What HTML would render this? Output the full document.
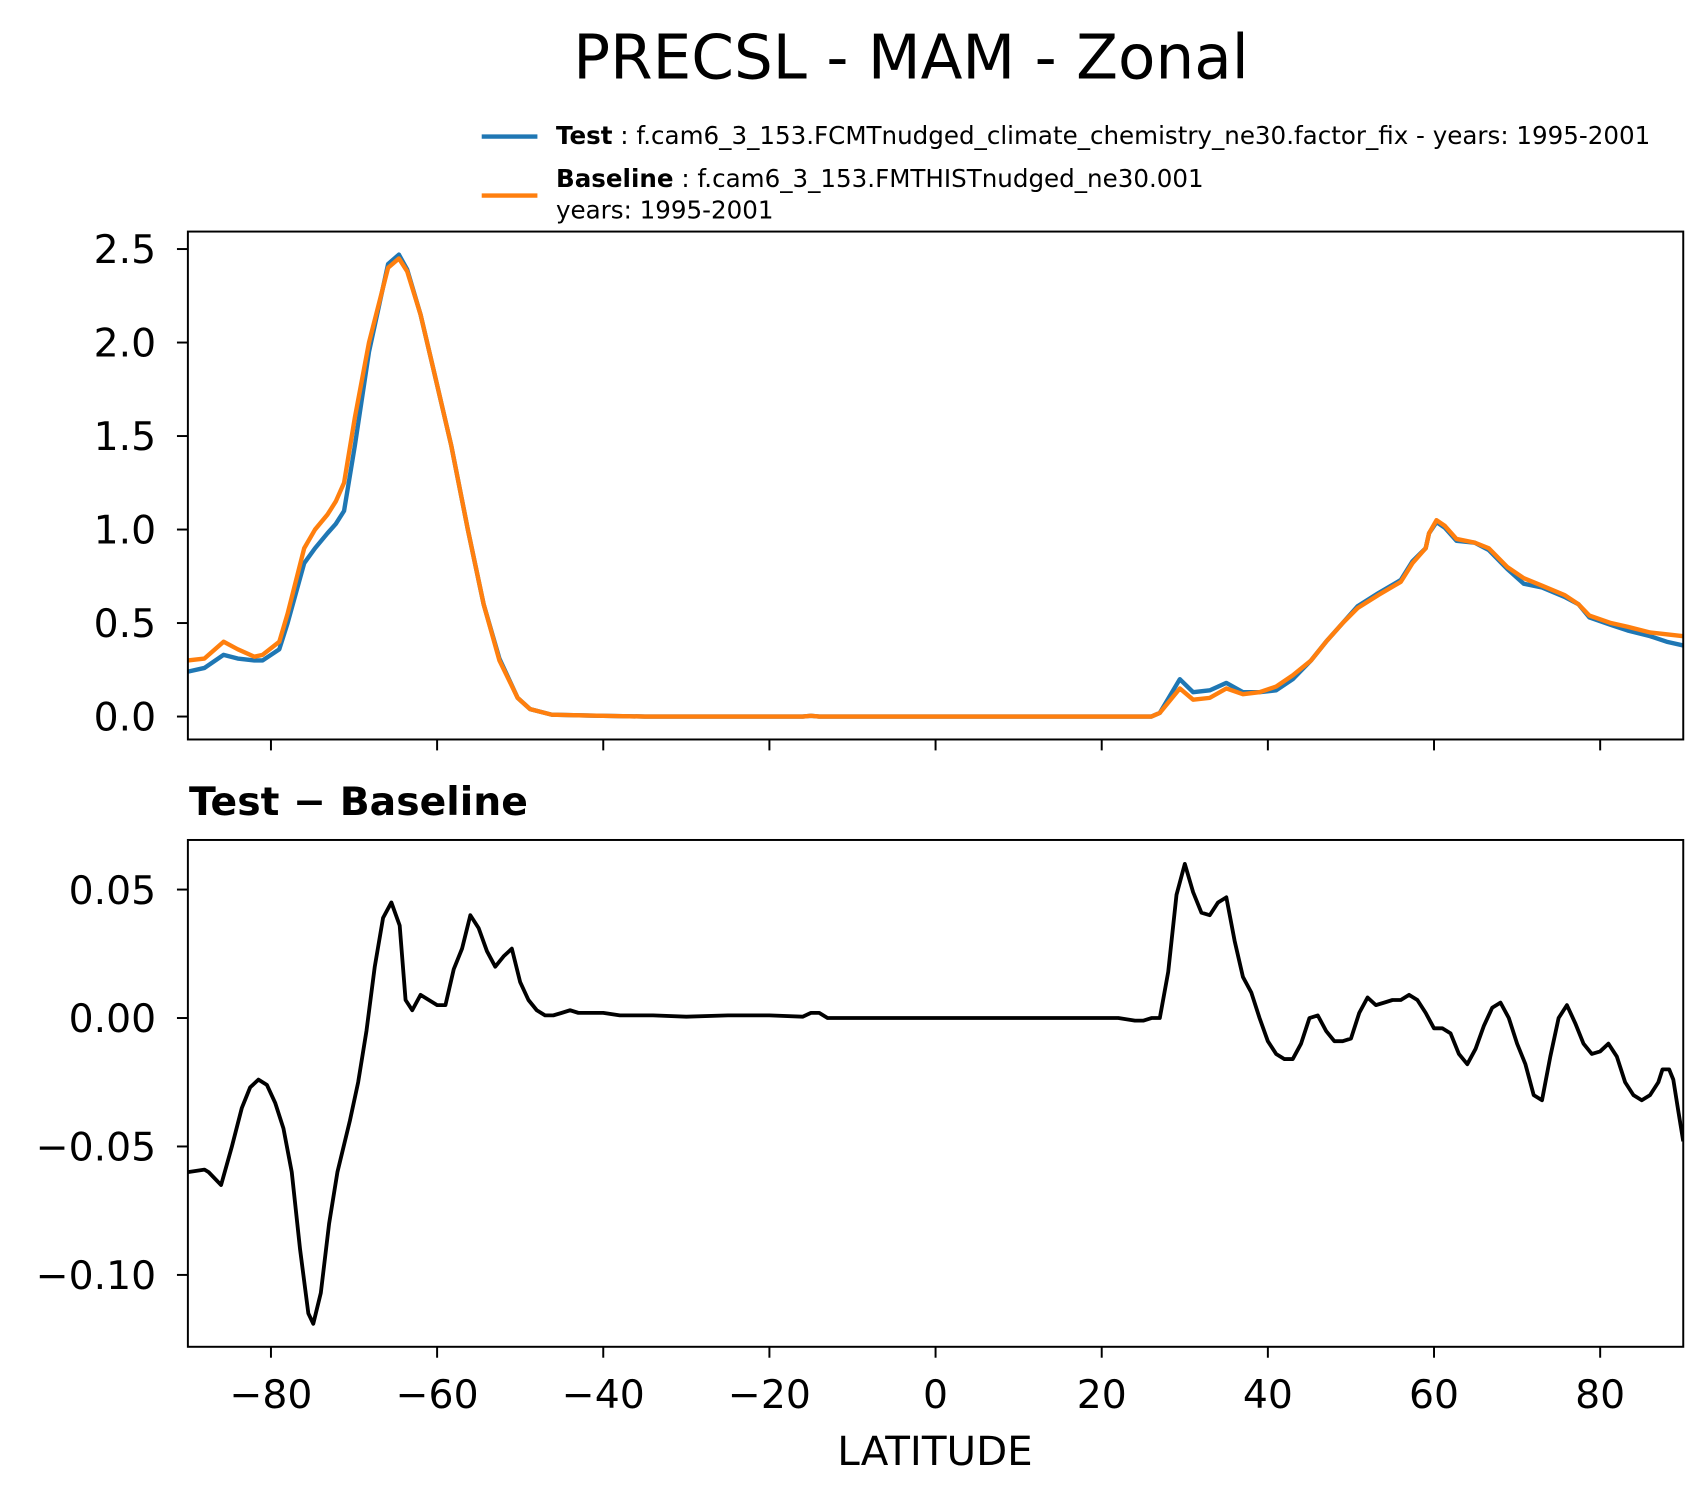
<!DOCTYPE html>
<html><head><meta charset="utf-8"><style>
html,body{margin:0;padding:0;background:#fff;}
svg{display:block;font-family:"DejaVu Sans","Liberation Sans",sans-serif;}
</style></head><body>
<svg id="chart" width="1704" height="1496" viewBox="0 0 1560 1369.6" preserveAspectRatio="none" xmlns="http://www.w3.org/2000/svg">
<rect width="1560" height="1369.6" fill="#fff"/>
<text x="834" y="72" font-size="56" text-anchor="middle">PRECSL - MAM - Zonal</text>
<g>
<line x1="441" y1="125" x2="492" y2="125" stroke="#1f77b4" stroke-width="4"/>
<text x="509" y="132" font-size="22.5"><tspan font-weight="bold">Test</tspan> : f.cam6_3_153.FCMTnudged_climate_chemistry_ne30.factor_fix - years: 1995-2001</text>
<line x1="441" y1="179" x2="492" y2="179" stroke="#ff7f0e" stroke-width="4"/>
<text x="509" y="171" font-size="22.5"><tspan font-weight="bold">Baseline</tspan> : f.cam6_3_153.FMTHISTnudged_ne30.001</text>
<text x="509" y="200" font-size="22.5">years: 1995-2001</text>
</g>
<g id="top"></g>
<text x="173" y="746" font-size="36" font-weight="bold">Test − Baseline</text>
<g id="bot"></g>
<text x="856" y="1341" font-size="37" text-anchor="middle">LATITUDE</text>
</svg>
<script>
const lats=[-90,-88,-85.7,-84,-82,-81,-79,-78,-76,-74.7,-73.2,-72.2,-71.2,-69.9,-68.2,-65.9,-64.6,-63.6,-62,-60.4,-58.3,-56.3,-54.4,-52.5,-50.3,-48.8,-46.2,-41.6,-35,-16,-15,-14,26,27,29.4,31,33,35,37,39,41,43,45.2,47,49,50.8,53.3,56,57.4,59,59.4,60.3,61.3,62.7,64.9,66.6,68.8,70.8,73,75.7,77.4,78.7,81.3,83.3,86,88,90];
const baseline=[0.30,0.31,0.40,0.36,0.32,0.33,0.40,0.55,0.90,1.00,1.08,1.15,1.25,1.60,2.00,2.40,2.45,2.38,2.15,1.85,1.45,1.00,0.60,0.30,0.10,0.04,0.01,0.005,0,0,0.004,0,0,0.02,0.15,0.09,0.10,0.15,0.12,0.13,0.16,0.22,0.30,0.40,0.50,0.58,0.65,0.72,0.82,0.90,0.98,1.05,1.02,0.95,0.93,0.90,0.80,0.74,0.70,0.65,0.60,0.54,0.50,0.48,0.45,0.44,0.43];
const test=[0.24,0.26,0.33,0.31,0.30,0.30,0.36,0.50,0.82,0.90,0.98,1.03,1.10,1.45,1.95,2.42,2.47,2.39,2.15,1.85,1.45,1.00,0.60,0.31,0.10,0.04,0.01,0.005,0,0,0.004,0,0,0.02,0.20,0.13,0.14,0.18,0.13,0.13,0.14,0.20,0.30,0.40,0.50,0.59,0.66,0.73,0.83,0.90,0.98,1.04,1.01,0.94,0.93,0.89,0.79,0.71,0.69,0.64,0.60,0.53,0.49,0.46,0.43,0.40,0.38];
const dlats=[-90,-88,-87.5,-86,-84.7,-83.5,-82.5,-81.5,-80.5,-79.5,-78.5,-77.5,-76.5,-75.5,-74.9,-74,-73,-72,-70.5,-69.5,-68.5,-67.5,-66.5,-65.5,-64.5,-63.8,-63,-62,-61,-60,-59,-58,-57,-56,-55,-54,-53,-52,-51,-50,-49,-48,-47,-46,-45,-44,-43,-40,-38,-34,-30,-25,-20,-16,-15,-14,-13,22,24,25,26,27,28,29,30,31,32,33,34,35,36,37,38,39,40,41,42,43,44,45,46,47,48,49,50,51,52,53,54,55,56,57,58,59,60,61,62,63,64,65,66,67,68,69,70,71,72,73,74,75,76,77,78,79,80,81,82,83,84,85,86,87,87.5,88.3,88.8,89.4,90];
const diff=[-0.060,-0.059,-0.060,-0.065,-0.050,-0.035,-0.027,-0.024,-0.026,-0.033,-0.043,-0.060,-0.090,-0.115,-0.119,-0.107,-0.080,-0.060,-0.040,-0.025,-0.005,0.020,0.039,0.045,0.036,0.007,0.003,0.009,0.007,0.005,0.005,0.019,0.027,0.040,0.035,0.026,0.020,0.024,0.027,0.014,0.007,0.003,0.001,0.001,0.002,0.003,0.002,0.002,0.001,0.001,0.0005,0.001,0.001,0.0005,0.002,0.002,0,0,-0.001,-0.001,0,0,0.018,0.048,0.060,0.049,0.041,0.040,0.045,0.047,0.030,0.016,0.010,0,-0.009,-0.014,-0.016,-0.016,-0.010,0,0.001,-0.005,-0.009,-0.009,-0.008,0.002,0.008,0.005,0.006,0.007,0.007,0.009,0.007,0.002,-0.004,-0.004,-0.006,-0.014,-0.018,-0.012,-0.003,0.004,0.006,0,-0.010,-0.018,-0.030,-0.032,-0.015,0,0.005,-0.002,-0.010,-0.014,-0.013,-0.010,-0.015,-0.025,-0.030,-0.032,-0.030,-0.025,-0.020,-0.020,-0.024,-0.036,-0.048,-0.054];
const xTicks=[-80,-60,-40,-20,0,20,40,60,80];
const xTickLabels=["−80","−60","−40","−20","0","20","40","60","80"];
const topTicks=[0,0.5,1,1.5,2,2.5];
const topTickLabels=["0.0","0.5","1.0","1.5","2.0","2.5"];
const botTicks=[-0.1,-0.05,0,0.05];
const botTickLabels=["−0.10","−0.05","0.00","0.05"];

const NS="http://www.w3.org/2000/svg";
const L=172,R=1541;
const x=v=>L+(v+90)/180*(R-L);
const yTop=v=>656-v*171.2;
const yBot=v=>932-v*2352;
function mk(tag,attrs,parent){const e=document.createElementNS(NS,tag);for(const k in attrs)e.setAttribute(k,attrs[k]);parent.appendChild(e);return e;}
function panel(g,top,bot,yf,ticks,labels,showX,pfx){
  for(let i=0;i<ticks.length;i++){
    const yy=yf(ticks[i]);
    const t=mk('line',{x1:L-10,x2:L,y1:yy,y2:yy,stroke:'#000','stroke-width':1.8},g);
    
    
    const tx=mk('text',{x:L-29,y:yy+13,'font-size':36,'text-anchor':'end'},g);
    tx.textContent=labels[i];
    
    
  }
  for(let i=0;i<xTicks.length;i++){
    const xx=x(xTicks[i]);
    const t=mk('line',{x1:xx,x2:xx,y1:bot,y2:bot+10,stroke:'#000','stroke-width':1.8},g);
    
    
    if(showX){
      const tx=mk('text',{x:xx,y:bot+56,'font-size':36,'text-anchor':'middle'},g);
      tx.textContent=xTickLabels[i];
      
      
    }
  }
}
function line(g,xs,ys,yf,color,w,name){
  const n=Math.min(xs.length,ys.length);
  const d=xs.slice(0,n).map((v,i)=>(i?'L':'M')+x(v).toFixed(1)+','+yf(ys[i]).toFixed(1)).join('');
  const p=mk('path',{d:d,fill:'none',stroke:color,'stroke-width':w,'stroke-linejoin':'round'},g);
  
  
}
const gt=document.getElementById('top');
const cp1=mk('clipPath',{id:'c1'},gt);mk('rect',{x:L,y:212,width:R-L,height:465},cp1);
const lg1=mk('g',{'clip-path':'url(#c1)'},gt);
line(lg1,lats,test,yTop,'#1f77b4',4,'test-line');
line(lg1,lats,baseline,yTop,'#ff7f0e',4,'baseline-line');
const f1=mk('rect',{x:L,y:212,width:R-L,height:465,fill:'none',stroke:'#000','stroke-width':1.8},gt);


panel(gt,212,677,yTop,topTicks,topTickLabels,false,'top');

const gb=document.getElementById('bot');
const cp2=mk('clipPath',{id:'c2'},gb);mk('rect',{x:L,y:769,width:R-L,height:464},cp2);
const lg2=mk('g',{'clip-path':'url(#c2)'},gb);
line(lg2,dlats,diff,yBot,'#000',3.5,'difference-line');
const f2=mk('rect',{x:L,y:769,width:R-L,height:464,fill:'none',stroke:'#000','stroke-width':1.8},gb);


panel(gb,769,1233,yBot,botTicks,botTickLabels,true,'bottom');
</script>
</body></html>
